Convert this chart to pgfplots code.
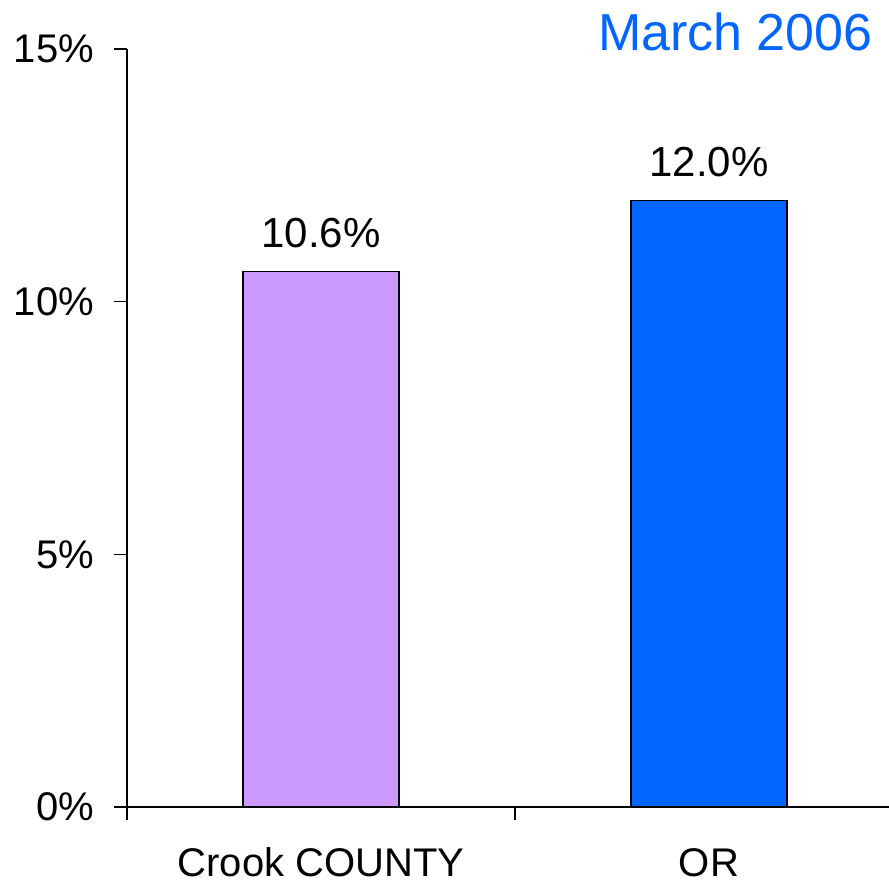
\documentclass[border=0pt]{standalone}
\usepackage{fontspec}
\setmainfont{Liberation Sans}
\usepackage{pgfplots}
\pgfplotsset{compat=1.18}
\definecolor{countyviolet}{HTML}{CC99FF}
\definecolor{orblue}{HTML}{0066FF}
\begin{document}
\begin{tikzpicture}
\begin{axis}[
    name=ax,
    scale only axis,
    width=381pt, height=379pt,
    xmin=-0.5, xmax=1.464,
    ymin=0, ymax=15,
    axis x line=bottom, axis y line=left,
    axis line style={-, line width=0.6pt},
    tick align=outside,
    major tick length=6.5pt,
    tick style={black, line width=0.6pt},
    xtick={-0.5,0.5,1.5},
    xticklabels={},
    extra x ticks={0,1},
    extra x tick labels={Crook COUNTY,OR},
    extra x tick style={major tick length=0pt,
        tick label style={anchor=base, yshift=-35pt, inner sep=0pt}},
    ytick={0,5,10,15},
    yticklabel={\pgfmathprintnumber{\tick}\%},
    yticklabel style={xshift=-6.5pt},
    /pgf/number format/assume math mode=true,
    tick label style={font=\fontsize{20}{24}\selectfont},
    ybar,
    bar width=78pt,
    nodes near coords={\pgfmathprintnumber[fixed,fixed zerofill,precision=1]{\pgfplotspointmeta}\%},
    nodes near coords style={font=\fontsize{21}{25}\selectfont, anchor=base, inner sep=0pt, yshift=12pt},
]
\addplot[fill=countyviolet, draw=black, line width=0.6pt, bar shift=0pt] coordinates {(0,10.6)};
\addplot[fill=orblue, draw=black, line width=0.6pt, bar shift=0pt] coordinates {(1,12.0)};
\end{axis}
\node[anchor=base east, inner sep=0pt, text=orblue, font=\fontsize{26}{30}\selectfont]
    at ([shift={(-8pt,-1pt)}]ax.north east) {March 2006};
\pgfresetboundingbox
\path[use as bounding box] ([shift={(-63.5pt,-38pt)}]ax.south west) rectangle ([shift={(0pt,24.5pt)}]ax.north east);
\end{tikzpicture}
\end{document}
